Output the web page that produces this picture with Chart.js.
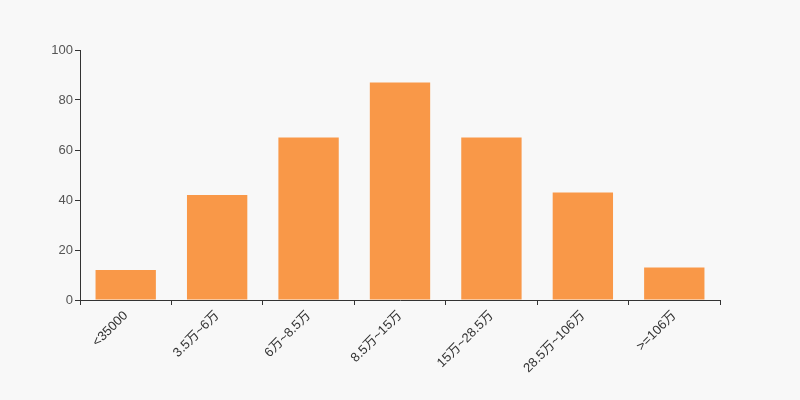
<!DOCTYPE html>
<html>
<head>
<meta charset="utf-8">
<script src="https://cdn.jsdelivr.net/npm/chart.js@4"></script>
<style>
  html, body { margin: 0; padding: 0; background: #f8f8f8; }
  #wrap { width: 800px; height: 400px; }
</style>
</head>
<body>
<div id="wrap"><canvas id="incomeChart" width="800" height="400"></canvas></div>
<script>
const categories = ['<35000', '3.5万~6万', '6万~8.5万', '8.5万~15万', '15万~28.5万', '28.5万~106万', '>=106万']
const values = [12, 42, 65, 87, 65, 43, 13]
const yTicks = [0, 20, 40, 60, 80, 100]

const fontFamily = '"Liberation Sans", Arial, "Noto Sans CJK SC", sans-serif'

const ctx = document.getElementById('incomeChart').getContext('2d')
new Chart(ctx, {
  type: 'bar',
  data: {
    labels: categories,
    datasets: [{
      data: values,
      backgroundColor: '#f99848',
      borderWidth: 0,
      barPercentage: 0.66,
      categoryPercentage: 1
    }]
  },
  options: {
    responsive: false,
    animation: false,
    layout: {
      padding: { left: 0, right: 80, top: 50, bottom: 0 }
    },
    plugins: {
      legend: { display: false },
      tooltip: { enabled: false }
    },
    scales: {
      x: {
        grid: {
          display: true,
          drawOnChartArea: false,
          drawTicks: true,
          tickLength: 5,
          color: '#333'
        },
        border: { display: true, color: '#333' },
        ticks: {
          minRotation: 45,
          maxRotation: 45,
          color: '#333',
          padding: 3,
          font: { family: fontFamily, size: 13 }
        },
        afterFit: function(scale) {
          scale.height = 100
        }
      },
      y: {
        min: 0,
        max: 100,
        afterBuildTicks: function(scale) {
          scale.ticks = yTicks.map(v => ({ value: v }))
        },
        grid: {
          display: true,
          drawOnChartArea: false,
          drawTicks: true,
          tickLength: 5,
          color: '#333'
        },
        border: { display: true, color: '#333' },
        ticks: {
          color: '#555',
          padding: 2,
          font: { family: fontFamily, size: 13 }
        },
        afterFit: function(scale) {
          scale.width = 80
        }
      }
    }
  }
})
</script>
</body>
</html>
